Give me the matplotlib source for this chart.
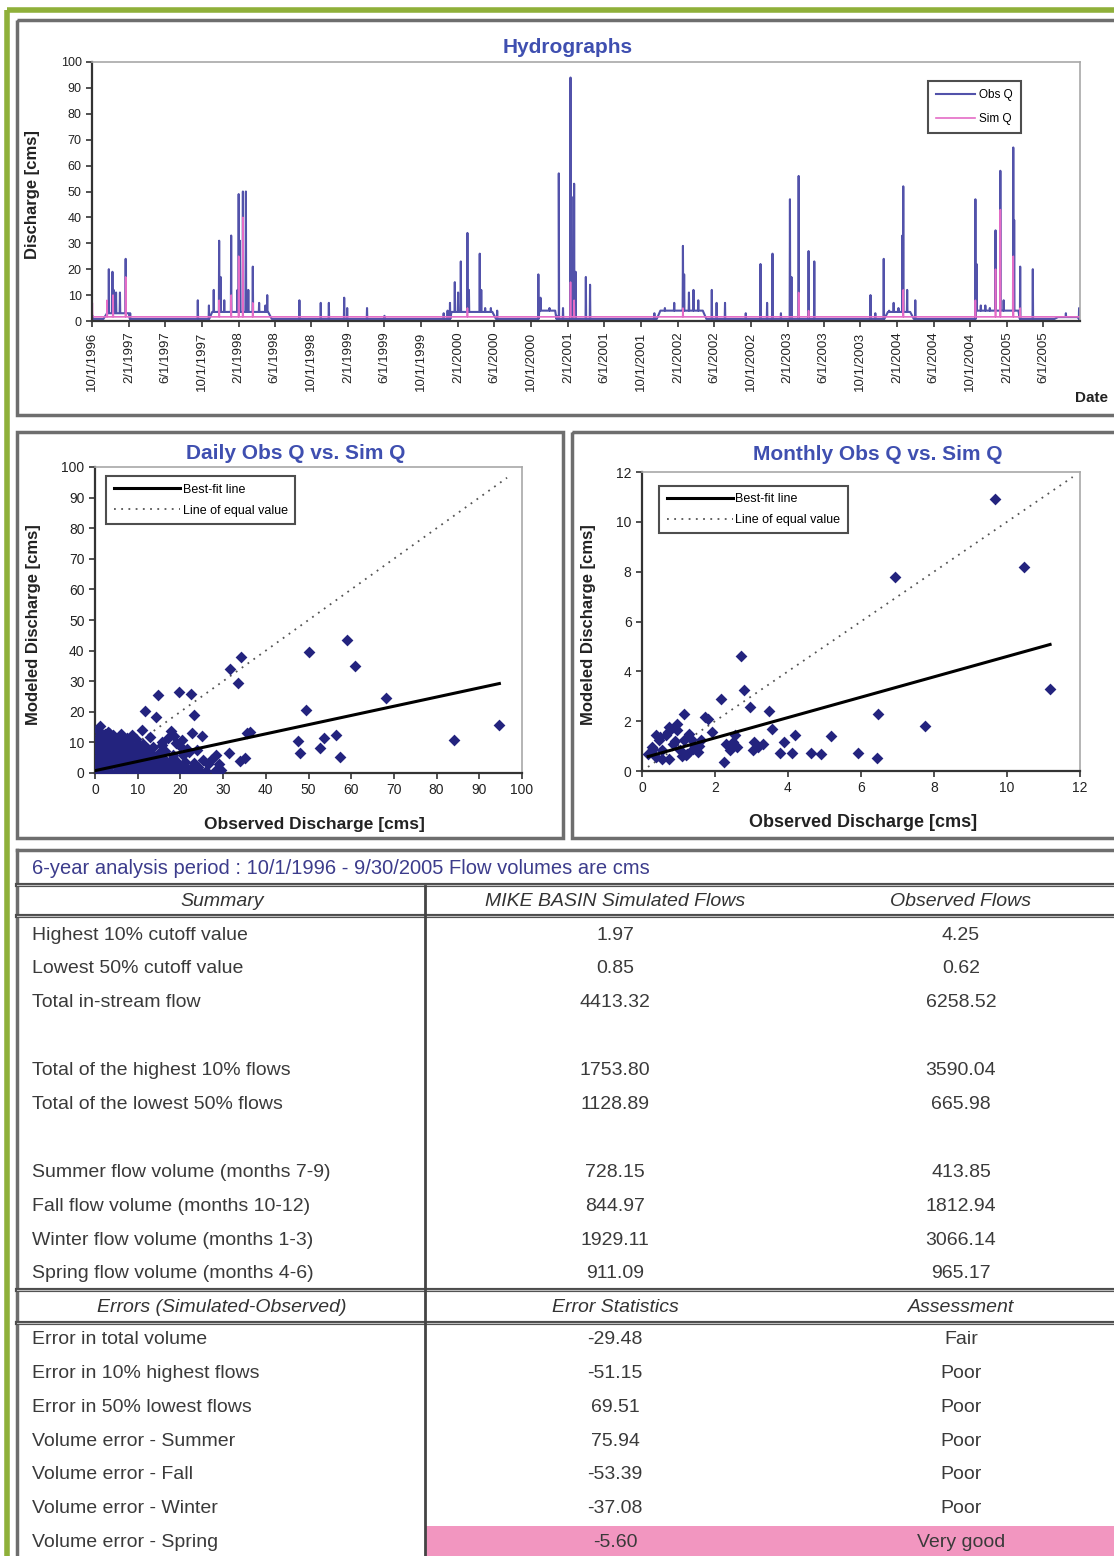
import numpy as np
import pandas as pd
import matplotlib
matplotlib.use("Agg")
import matplotlib.pyplot as plt
from matplotlib.patches import Rectangle

plt.rcParams['font.family'] = ['Liberation Sans', 'DejaVu Sans']

W, H = 1114, 1556

# ---- hydrograph: daily spikes (date, cms) ----
obs_peak_dates = ["1996-10-03", "1996-11-26", "1996-12-08", "1996-12-12", "1996-12-20",
                  "1997-01-02", "1997-01-21", "1997-02-05", "1997-09-18", "1997-10-25",
                  "1997-11-10", "1997-11-28", "1997-12-03", "1997-12-15", "1998-01-07",
                  "1998-01-28", "1998-02-01", "1998-02-05", "1998-02-15", "1998-02-25",
                  "1998-03-05", "1998-03-20", "1998-04-10", "1998-05-01", "1998-05-07",
                  "1998-08-22", "1998-11-01", "1998-11-28", "1999-01-18", "1999-01-28",
                  "1999-04-04", "1999-06-01", "1999-12-15", "1999-12-28", "2000-01-05",
                  "2000-01-21", "2000-02-01", "2000-02-10", "2000-03-03", "2000-03-08",
                  "2000-04-13", "2000-04-18", "2000-05-01", "2000-05-20", "2000-06-10",
                  "2000-10-25", "2000-11-01", "2000-12-01", "2000-12-25", "2001-01-01",
                  "2001-01-15", "2001-02-09", "2001-02-12", "2001-02-21", "2001-02-26",
                  "2001-04-01", "2001-04-15", "2001-11-15", "2001-12-20", "2002-01-20",
                  "2002-02-18", "2002-02-22", "2002-03-10", "2002-03-25", "2002-04-10",
                  "2002-05-25", "2002-06-10", "2002-07-08", "2002-09-15", "2002-11-03",
                  "2002-11-25", "2002-12-13", "2003-01-10", "2003-02-09", "2003-02-14",
                  "2003-03-10", "2003-04-12", "2003-05-01", "2003-11-04", "2003-11-20",
                  "2003-12-18", "2004-01-05", "2004-01-20", "2004-02-05", "2004-02-18",
                  "2004-02-21", "2004-03-05", "2004-04-01", "2004-10-18", "2004-10-22",
                  "2004-11-05", "2004-11-20", "2004-12-05", "2004-12-24", "2005-01-09",
                  "2005-01-20", "2005-02-21", "2005-02-24", "2005-03-16", "2005-04-27",
                  "2005-08-15", "2005-09-28"]
obs_peak_vals = [2, 20, 19, 12, 11,
                 11, 24, 3, 8, 6,
                 12, 31, 17, 8, 33,
                 12, 49, 31, 50, 50,
                 12, 21, 7, 6, 10,
                 8, 7, 7, 9, 5,
                 5, 2, 3, 4, 7,
                 15, 11, 23, 34, 12,
                 26, 12, 5, 5, 4,
                 18, 9, 5, 2, 57,
                 5, 94, 48, 53, 19,
                 17, 14, 3, 5, 7,
                 29, 18, 11, 12, 8,
                 12, 7, 7, 3, 22,
                 7, 26, 3, 47, 17,
                 56, 27, 23, 10, 3,
                 24, 4, 7, 5, 33,
                 52, 12, 8, 47, 22,
                 6, 6, 5, 35, 58,
                 8, 67, 39, 21, 20,
                 3, 5]
# wet-season base flow seen as the dark band under the spikes (start, end, cms)
obs_wet_start = ["1996-11-20", "1997-11-05", "2000-01-10", "2000-10-28", "2001-12-05",
                 "2004-01-01", "2004-10-20", "2005-07-20"]
obs_wet_end = ["1997-01-31", "1998-05-10", "2000-05-25", "2000-12-20", "2002-04-25",
               "2004-03-15", "2005-03-10", "2005-09-25"]
obs_wet_level = [3, 3.5, 3.5, 4, 4, 3.5, 4, 1.5]
sim_peak_dates = ["1996-10-02", "1996-11-20", "1996-12-10", "1997-01-21", "1997-11-28",
                  "1998-01-07", "1998-02-01", "1998-02-15", "1998-03-20", "2000-03-03",
                  "2001-02-09", "2001-02-21", "2002-02-18", "2003-03-10", "2003-04-12",
                  "2004-02-21", "2004-10-18", "2004-12-24", "2005-01-09", "2005-02-21",
                  "2005-03-16"]
sim_peak_vals = [7, 8, 10, 17, 8,
                 10, 25, 40, 7, 5,
                 15, 8, 5, 11, 4,
                 12, 8, 20, 43, 25,
                 5]
obs_base = 0.8
sim_base = 1.6

# ---- daily scatter (observed, simulated) ----
daily_obs = [94.7, 84.1, 68.1, 59.0, 60.9, 50.2, 49.4, 47.5, 47.9, 52.6, 53.7, 56.4, 57.4,
             34.3, 31.5, 33.4, 14.7, 19.6, 22.4, 23.2, 11.6, 14.3, 35.6, 36.4, 33.9, 35.1,
             29.6, 28.3, 31.3, 25.4, 25.0, 22.8, 17.7, 15.6, 20.3, 19.8, 18.6, 10.9, 7.5,
             1.1, 3.2,
             0.5, 2.1, 3.4, 5.2, 6.4, 8.1, 9.6, 11.0, 12.4, 14.1, 15.6, 16.9, 18.6, 20.1, 21.4, 23.2, 24.6, 26.1, 28.0,
             0.3, 1.7, 3.3, 4.9, 6.2, 7.9, 9.4, 10.7, 12.2, 13.9, 15.2, 16.8, 18.4, 19.7, 21.2, 22.9, 24.1,
             1.0, 2.6, 4.1, 5.4, 7.1, 8.4, 10.1, 11.6, 12.9, 14.6, 16.1, 17.4, 19.2, 21.0, 23.1,
             0.4, 1.9, 3.5, 4.8, 6.5, 7.8, 9.5, 10.8, 12.3, 14.1, 16.0, 18.2,
             1.1, 2.4, 4.0, 5.6, 6.9, 8.6, 10.1, 11.4, 13.2, 15.1,
             0.5, 2.1, 3.4, 5.1, 6.4, 8.1, 9.4, 11.1, 12.4,
             1.0, 2.6, 3.9, 5.6, 6.9, 8.4, 10.2, 11.3,
             0.6, 1.9, 3.6, 4.9, 6.6, 7.9, 9.6,
             1.1, 2.4, 4.1, 6.0, 8.6,
             0.8, 3.1,
             13.5, 16.5, 19.0, 21.5, 24.0, 17.0, 20.5, 26.5, 12.8, 15.8, 18.2, 22.0, 27.2, 29.0]
daily_sim = [15.8, 10.9, 24.5, 43.5, 35.1, 39.5, 20.7, 10.3, 6.5, 8.2, 11.4, 12.5, 5.2,
             37.8, 33.9, 29.3, 25.5, 26.6, 25.9, 19.0, 20.3, 18.2, 13.0, 13.3, 3.8, 4.9,
             1.1, 6.0, 6.5, 4.1, 12.0, 13.0, 13.6, 10.0, 10.9, 8.7, 12.0, 14.1, 11.4,
             15.2, 13.0,
             0.5, 0.6, 0.4, 0.7, 0.5, 0.6, 0.4, 0.7, 0.5, 0.6, 0.4, 0.8, 0.5, 0.6, 0.4, 0.7, 0.5, 0.6, 0.5,
             2.0, 2.1, 1.9, 2.2, 2.0, 1.8, 2.1, 2.0, 1.9, 2.2, 2.0, 1.8, 2.1, 2.0, 1.9, 2.1, 2.0,
             3.5, 3.6, 3.4, 3.7, 3.5, 3.3, 3.6, 3.5, 3.4, 3.7, 3.5, 3.3, 3.6, 3.5, 3.4,
             5.0, 5.1, 4.9, 5.2, 5.0, 4.8, 5.1, 5.0, 4.9, 5.2, 5.0, 4.8,
             6.5, 6.6, 6.4, 6.7, 6.5, 6.3, 6.6, 6.5, 6.4, 6.6,
             8.0, 8.1, 7.9, 8.2, 8.0, 7.8, 8.1, 8.0, 7.9,
             9.5, 9.6, 9.4, 9.7, 9.5, 9.3, 9.6, 9.5,
             11.0, 11.1, 10.9, 11.2, 11.0, 10.8, 11.1,
             12.5, 12.6, 12.4, 12.7, 12.5,
             14.0, 13.5,
             8.5, 7.2, 9.8, 8.0, 7.5, 11.5, 6.0, 2.8, 11.8, 9.0, 5.8, 6.8, 4.2, 3.0]
daily_slope, daily_icpt, daily_r2 = 0.3006, 0.7708, 0.4176

# ---- monthly scatter (observed, simulated) ----
monthly_obs = [9.67, 10.47, 6.92, 2.72, 11.18, 6.46, 7.74, 6.43, 5.91, 5.18, 4.91, 4.64,
               4.12, 4.19, 3.88, 3.77, 3.56, 3.49, 3.32, 3.17, 3.03, 3.07, 2.95, 2.79,
               2.16, 2.30, 2.50, 2.40, 2.25, 2.60, 2.54, 1.91, 1.72, 1.82, 1.14,
               0.17, 0.27, 0.37, 0.46, 0.56, 0.66, 0.75, 0.85, 0.95, 1.04, 1.14, 1.24,
               1.33, 1.43, 1.53, 1.62, 0.75, 0.95, 0.37, 0.56, 1.09, 1.28, 1.57, 0.30,
               0.50, 0.70, 0.90, 1.20, 1.40]
monthly_sim = [10.90, 8.20, 7.80, 4.62, 3.31, 2.27, 1.81, 0.54, 0.74, 1.41, 0.70, 0.74,
               0.74, 1.43, 1.17, 0.74, 1.70, 2.40, 1.10, 0.97, 0.83, 1.17, 2.57, 3.24,
               2.87, 1.10, 1.17, 0.83, 0.36, 0.97, 1.43, 1.57, 2.17, 2.10, 2.28,
               0.70, 0.97, 0.56, 1.23, 0.83, 1.43, 0.50, 1.10, 1.64, 0.83, 1.23, 0.70,
               1.30, 1.03, 0.76, 1.23, 1.77, 1.90, 1.43, 0.50, 0.60, 1.50, 1.00, 0.90,
               1.35, 1.55, 1.20, 0.65, 0.90]
monthly_slope, monthly_icpt, monthly_r2 = 0.4085, 0.5114, 0.4248

# ---- statistics table ----
period_text = "6-year analysis period : 10/1/1996 - 9/30/2005 Flow volumes are cms"
summary_header = ["Summary", "MIKE BASIN Simulated Flows", "Observed Flows"]
summary_labels = ["Highest 10% cutoff value", "Lowest 50% cutoff value", "Total in-stream flow", "",
                  "Total of the highest 10% flows", "Total of the lowest 50% flows", "",
                  "Summer flow volume (months 7-9)", "Fall flow volume (months 10-12)",
                  "Winter flow volume (months 1-3)", "Spring flow volume (months 4-6)"]
sim_flows = ["1.97", "0.85", "4413.32", "", "1753.80", "1128.89", "", "728.15", "844.97", "1929.11", "911.09"]
obs_flows = ["4.25", "0.62", "6258.52", "", "3590.04", "665.98", "", "413.85", "1812.94", "3066.14", "965.17"]
error_header = ["Errors (Simulated-Observed)", "Error Statistics", "Assessment"]
error_labels = ["Error in total volume", "Error in 10% highest flows", "Error in 50% lowest flows",
                "Volume error - Summer", "Volume error - Fall", "Volume error - Winter",
                "Volume error - Spring"]
error_stats = ["-29.48", "-51.15", "69.51", "75.94", "-53.39", "-37.08", "-5.60"]
assessments = ["Fair", "Poor", "Poor", "Poor", "Poor", "Poor", "Very good"]

title_blue = '#3f4fb0'
navy = '#23237e'
frame_gray = '#6e6e6e'
text_gray = '#3a3a3a'
one_day = pd.Timedelta(days=1)
ramp = pd.Timedelta(days=12)


def base_at(t, base, starts, ends, levels):
    for s, e, lv in zip(starts, ends, levels):
        if s <= t <= e:
            return lv
    return base


def spikes(dates, vals, base, start, end, wet_s=(), wet_e=(), wet_lv=()):
    starts = list(pd.to_datetime(list(wet_s)))
    ends = list(pd.to_datetime(list(wet_e)))
    pts = [(pd.Timestamp(start), base), (pd.Timestamp(end), base)]
    for s, e, lv in zip(starts, ends, wet_lv):
        pts += [(s - ramp, base), (s, lv), (e, lv), (e + ramp, base)]
    for t, v in zip(pd.to_datetime(dates), vals):
        b = base_at(t, base, starts, ends, wet_lv)
        pts += [(t - one_day, b), (t, v), (t + one_day, b)]
    pts.sort(key=lambda p: p[0])
    x, y = zip(*pts)
    return pd.to_datetime(list(x)).to_numpy(), np.array(y)


def px_axes(l, t, r, b):
    return fig.add_axes([l / W, 1 - b / H, (r - l) / W, (b - t) / H])


def style_axes(ax, fs):
    for s in ['top', 'right']:
        ax.spines[s].set_color('#a8a8a8')
        ax.spines[s].set_linewidth(1.2)
    for s in ['left', 'bottom']:
        ax.spines[s].set_color('#333333')
        ax.spines[s].set_linewidth(1.6)
    ax.tick_params(direction='out', length=4, width=1.2, color='#333333',
                   labelsize=fs, labelcolor='#222222')


fig = plt.figure(figsize=(W / 100, H / 100), dpi=100)
bg = fig.add_axes([0, 0, 1, 1])
bg.set_xlim(0, W)
bg.set_ylim(H, 0)
bg.axis('off')

# green outer frame
bg.plot([7, 7], [10, H], color='#8fb03a', lw=4, solid_capstyle='butt')
bg.plot([7, W], [10, 10], color='#8fb03a', lw=4, solid_capstyle='butt')

# panel boxes
for (l, t, r, b) in [(17, 20, W + 5, 415), (17, 432, 563, 838), (572, 432, W + 5, 838)]:
    bg.add_patch(Rectangle((l, t), r - l, b - t, fill=False, ec=frame_gray, lw=2.5))

# ---------- hydrograph ----------
start, end = "1996-10-01", "2005-10-01"
ax = px_axes(92, 62, 1080, 321)
ox, oy = spikes(obs_peak_dates, obs_peak_vals, obs_base, start, "2005-09-30",
                obs_wet_start, obs_wet_end, obs_wet_level)
sx, sy = spikes(sim_peak_dates, sim_peak_vals, sim_base, start, "2005-09-30")
ax.plot(ox, oy, color='#5252aa', lw=1.5, label='Obs Q')
ax.plot(sx, sy, color='#e46cc6', lw=1.2, label='Sim Q')
ax.set_ylim(0, 100)
ax.set_yticks(range(0, 101, 10))
ax.set_xlim(np.datetime64(start), np.datetime64(end))
ticks = pd.date_range("1996-10-01", "2005-06-01", freq="4MS")
ax.set_xticks(ticks.to_numpy())
ax.set_xticklabels([f"{t.month}/{t.day}/{t.year}" for t in ticks], rotation=90)
style_axes(ax, 9)
ax.tick_params(axis='x', labelsize=9.5)
leg = ax.legend(loc='upper right', bbox_to_anchor=(0.946, 0.95), fontsize=8.5,
                handlelength=3.3, frameon=True, fancybox=False, borderpad=0.7,
                labelspacing=1.0, handletextpad=0.3)
leg.get_frame().set_edgecolor('#222222')
leg.get_frame().set_linewidth(1.5)
bg.text(568, 47, "Hydrographs", color=title_blue, fontsize=15, fontweight='bold',
        ha='center', va='center')
bg.text(33, 195, "Discharge [cms]", rotation=90, fontsize=12, fontweight='bold',
        ha='center', va='center', color='#222222')
bg.text(1075, 398, "Date", fontsize=11, fontweight='bold', ha='left', va='center',
        color='#222222')


# ---------- scatter panels ----------
def scatter_panel(box, xs, ys, top, step, slope, icpt, r2, eq_xy, title, title_xy,
                  xlab_xy, ylab_xy, eq_line_end, leg_anchor, lab_fs):
    a = px_axes(*box)
    a.scatter(xs, ys, marker='D', s=36, color=navy, lw=0, zorder=3)
    a.plot([0, eq_line_end], [0, eq_line_end], color='#555555', lw=1.3,
           ls=(0, (1, 3)), label='Line of equal value', zorder=2)
    fx = np.array([min(xs), max(xs)])
    a.plot(fx, slope * fx + icpt, color='black', lw=2.2, label='Best-fit line', zorder=4)
    a.set_xlim(0, top)
    a.set_ylim(0, top)
    a.set_xticks(np.arange(0, top + 0.1, step))
    a.set_yticks(np.arange(0, top + 0.1, step))
    style_axes(a, 10)
    h, l = a.get_legend_handles_labels()
    lg = a.legend(h[::-1], l[::-1], loc='upper left', bbox_to_anchor=leg_anchor,
                  fontsize=9, handlelength=5.3, fancybox=False, borderpad=0.6,
                  labelspacing=0.7, handletextpad=0.2)
    lg.get_frame().set_edgecolor('#222222')
    lg.get_frame().set_linewidth(1.5)
    bg.text(eq_xy[0], eq_xy[1], f"y = {slope:.4f}x + {icpt:.4f}", fontsize=10,
            ha='center', va='center', color='#222222')
    bg.text(eq_xy[0], eq_xy[1] + 23, f"R² = {r2:.4f}", fontsize=10,
            ha='center', va='center', color='#222222')
    bg.text(title_xy[0], title_xy[1], title, color=title_blue, fontsize=15,
            fontweight='bold', ha='center', va='center')
    bg.text(xlab_xy[0], xlab_xy[1], "Observed Discharge [cms]", fontsize=lab_fs,
            fontweight='bold', ha='center', va='center', color='#222222')
    bg.text(ylab_xy[0], ylab_xy[1], "Modeled Discharge [cms]", rotation=90, fontsize=12,
            fontweight='bold', ha='center', va='center', color='#222222')
    return a


scatter_panel((95, 467, 522, 773), daily_obs, daily_sim, 100, 10,
              daily_slope, daily_icpt, daily_r2, (415, 604), "Daily Obs Q vs. Sim Q",
              (296, 453), (314, 824), (34, 625), 96.5, (0.012, 0.99), 12.5)
scatter_panel((642, 472, 1080, 771), monthly_obs, monthly_sim, 12, 2,
              monthly_slope, monthly_icpt, monthly_r2, (888, 611), "Monthly Obs Q vs. Sim Q",
              (878, 454), (863, 822), (589, 625), 11.8, (0.025, 0.975), 13)

# ---------- table ----------
tfs = 14
bg.add_patch(Rectangle((425, 1526), W - 425, 32, color='#f296c0', lw=0))
bg.plot([17, 17], [850, H], color=frame_gray, lw=2.5)
bg.plot([17, W], [850, 850], color=frame_gray, lw=2.5)
for yy in [885, 916, 1290, 1323]:
    bg.plot([17, W], [yy, yy], color='#4d4d4d', lw=3)
    bg.plot([17, W], [yy, yy], color='#bdbdbd', lw=0.8)
bg.plot([425, 425], [886, H], color='#444444', lw=2)

bg.text(32, 868, period_text, fontsize=14.5, color='#3c3c8c', ha='left', va='center')
col_x = [222, 615, 961]
for cx, txt in zip(col_x, summary_header):
    bg.text(cx, 901, txt, fontsize=tfs, style='italic', ha='center', va='center', color='#333333')
for cx, txt in zip(col_x, error_header):
    bg.text(cx, 1307, txt, fontsize=tfs, style='italic', ha='center', va='center', color='#333333')
for i, (lab, sv, ov) in enumerate(zip(summary_labels, sim_flows, obs_flows)):
    yy = 935 + 33.9 * i
    bg.text(32, yy, lab, fontsize=tfs, ha='left', va='center', color=text_gray)
    bg.text(col_x[1], yy, sv, fontsize=tfs, ha='center', va='center', color=text_gray)
    bg.text(col_x[2], yy, ov, fontsize=tfs, ha='center', va='center', color=text_gray)
for i, (lab, ev, asv) in enumerate(zip(error_labels, error_stats, assessments)):
    yy = 1340 + 33.7 * i
    bg.text(32, yy, lab, fontsize=tfs, ha='left', va='center', color=text_gray)
    bg.text(col_x[1], yy, ev, fontsize=tfs, ha='center', va='center', color=text_gray)
    bg.text(col_x[2], yy, asv, fontsize=tfs, ha='center', va='center', color=text_gray)

fig.savefig("out.png", dpi=100)
